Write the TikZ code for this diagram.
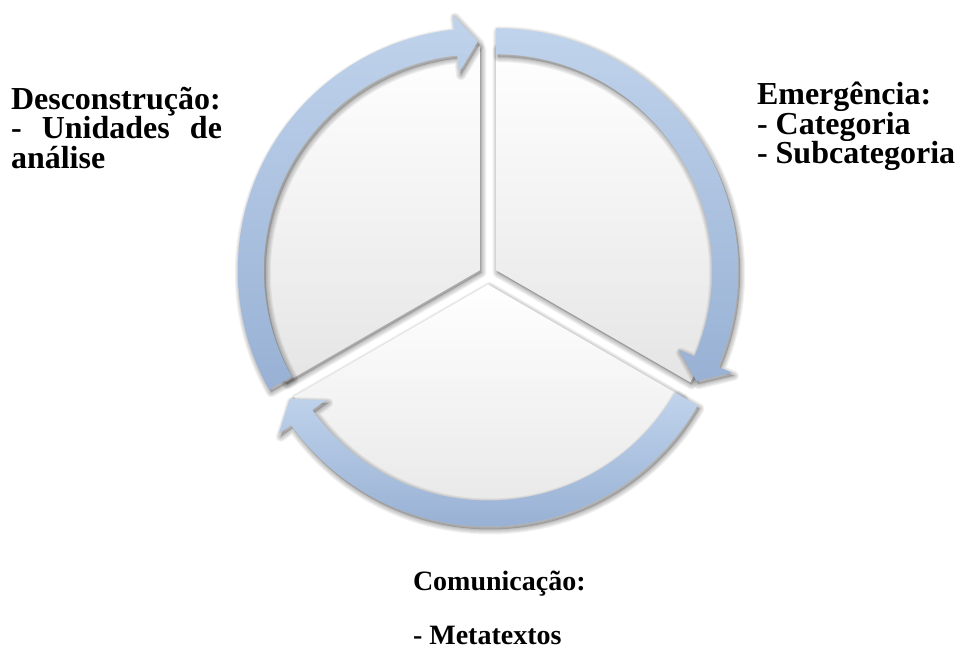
\documentclass[tikz,border=0pt]{standalone}
\usepackage{fontspec}
\setmainfont{Liberation Serif}
\definecolor{arrowlight}{RGB}{192,211,236}
\definecolor{arrowdark}{RGB}{152,177,212}
\definecolor{sectorgray}{RGB}{229,229,229}
% shapes drawn around the origin; placed with shift
\newcommand\sectorshape[2]{(0,0) -- (#1:224) arc[start angle=#1, end angle=#2, radius=224] -- cycle}
\newcommand\arrowshape[3]{(#1:242) arc[start angle=#1, end angle=#2, radius=242] -- (#2:257) -- (#3:229) -- (#2:199) -- (#2:216) arc[start angle=#2, end angle=#1, radius=216] -- cycle}
\newcommand\softshadow[3]{%
  \begin{scope}[shift={(#1)}, shift={(#2)}]
    \path[fill=black, fill opacity=0.18] #3;
    \foreach \w in {1pt,2pt,3pt,4pt,5pt}{\path[draw=black, draw opacity=0.05, line width=\w, line join=round] #3;}
  \end{scope}}
\begin{document}
\begin{tikzpicture}[x=0.5pt, y=0.5pt,
  lbl/.style={font=\fontsize{16}{18}\selectfont\bfseries, inner sep=0pt, outer sep=0pt, anchor=base west},
  smalllbl/.style={lbl, font=\fontsize{14}{16}\selectfont\bfseries},
  sectorfill/.style={top color=white, bottom color=sectorgray},
  arrowfill/.style={top color=arrowlight, bottom color=arrowdark}]
\fill[white] (0,0) rectangle (958,648);
\useasboundingbox (0,0) rectangle (958,648);
% centres: UL (479.77,377.75), UR (496.23,377.75), B (488,363.5)
\coordinate (oUL) at (479.77,377.75);
\coordinate (oUR) at (496.23,377.75);
\coordinate (oB) at (488,363.5);
% sector shadows
\softshadow{479.77,377.75}{1.5,-2.5}{\sectorshape{90}{210}}
\softshadow{496.23,377.75}{1.5,-2.5}{\sectorshape{-30}{90}}
\softshadow{488,363.5}{1.5,-2.5}{\sectorshape{210}{330}}
% sectors
\path[sectorfill, shift={(479.77,377.75)}] \sectorshape{90}{210};
\path[sectorfill, shift={(496.23,377.75)}] \sectorshape{-30}{90};
\path[sectorfill, shift={(488,363.5)}] \sectorshape{210}{330};
% arrow shadows
\softshadow{479.77,377.75}{2,-3}{\arrowshape{209.5}{96}{90.5}}
\softshadow{496.23,377.75}{2,-3}{\arrowshape{90}{-23.5}{-29}}
\softshadow{488,363.5}{2,-3}{\arrowshape{330}{215.5}{210}}
% arrows
\path[arrowfill, shift={(479.77,377.75)}] \arrowshape{209.5}{96}{90.5};
\path[arrowfill, shift={(496.23,377.75)}] \arrowshape{90}{-23.5}{-29};
\path[arrowfill, shift={(488,363.5)}] \arrowshape{330}{215.5}{210};
% labels
\node[lbl] (des1) at (11,538.7) {Desconstrução:};
\node[lbl] (des2) at (11,509.2) {\makebox[105.5pt][s]{- Unidades de}};
\node[lbl] (des3) at (11,479.7) {análise};
\node[lbl] (eme1) at (757,543) {Emergência:};
\node[lbl] (eme2) at (757,513.5) {- Categoria};
\node[lbl] (eme3) at (757,484) {- Subcategoria};
\node[smalllbl] (com1) at (413,58) {Comunicação:};
\node[smalllbl] (com2) at (413,4) {- Metatextos};
\end{tikzpicture}
\end{document}
